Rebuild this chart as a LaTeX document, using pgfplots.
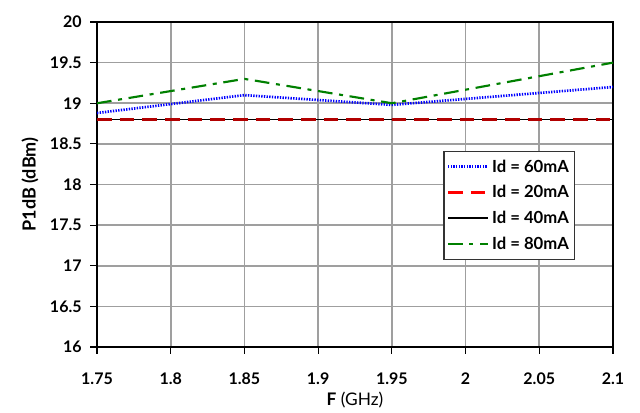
\documentclass[border=0pt]{standalone}
\usepackage{pgfplots}
\pgfplotsset{compat=1.18}
\usepackage{fontspec}
\setmainfont{Lato}
\begin{document}
\begin{tikzpicture}
  \path[use as bounding box, fill=white] (0pt,0pt) rectangle (480pt,309pt);
  \begin{axis}[
    at={(72.75pt,48.75pt)}, anchor=south west,
    scale only axis,
    width=387pt, height=243.75pt,
    xmin=1.75, xmax=2.1, ymin=16, ymax=20,
    xtick={1.75,1.8,1.85,1.9,1.95,2,2.05,2.1},
    ytick={16,16.5,17,17.5,18,18.5,19,19.5,20},
    xticklabels={1.75,1.8,1.85,1.9,1.95,2,2.05,2.1},
    yticklabels={16,16.5,17,17.5,18,18.5,19,19.5,20},
    grid=major,
    major grid style={gray!75, line width=1.3pt},
    axis line style={line width=1.8pt, black},
    tick align=outside,
    tick style={black, line width=0.9pt},
    major tick length=5pt,
    xtick pos=bottom, ytick pos=left,
    ticklabel style={font=\fontsize{12}{14}\selectfont\bfseries},
    xticklabel style={yshift=-11pt},
    yticklabel style={xshift=-3pt},
    xlabel={\textbf{F} (GHz)},
    ylabel={\textbf{P1dB (dBm)}},
    xlabel style={font=\fontsize{13}{15}\selectfont,
      at={(axis description cs:0.5,0)}, anchor=center, yshift=-39.5pt},
    ylabel style={font=\fontsize{13.5}{15}\selectfont\bfseries,
      at={(axis description cs:-0.13,0.5)}, anchor=center},
    legend cell align=left,
    legend style={at={(0.926,0.603)}, anchor=north east,
      draw=black!80, line width=0.9pt, fill=white,
      font=\fontsize{12.5}{14}\selectfont\bfseries,
      row sep=4.5pt, inner xsep=2pt, inner ysep=4pt},
    legend image code/.code={\draw[#1] (0pt,0pt) -- (30pt,0pt);},
  ]
    \addlegendimage{blue, line width=2pt, dash pattern=on 1pt off 1pt}
    \addlegendentry{Id = 60mA}
    \addlegendimage{red, line width=1.6pt, dash pattern=on 11pt off 6pt}
    \addlegendentry{Id = 20mA}
    \addlegendimage{black, line width=1.3pt}
    \addlegendentry{Id = 40mA}
    \addlegendimage{green!50!black, line width=1.6pt, dash pattern=on 11pt off 5pt on 3pt off 5pt}
    \addlegendentry{Id = 80mA}

    % 40 mA
    \addplot[forget plot, black, line width=1.3pt] coordinates {
      (1.75,18.8) (1.85,18.8) (1.95,18.8) (2.1,18.8)};
    % 20 mA
    \addplot[forget plot, red!70!black, line width=1.6pt, dash pattern=on 11pt off 6pt] coordinates {
      (1.75,18.8) (1.85,18.8) (1.95,18.8) (2.1,18.8)};
    % 60 mA
    \addplot[forget plot, blue, line width=2pt, dash pattern=on 1pt off 1pt] coordinates {
      (1.75,18.88) (1.85,19.1) (1.95,18.98) (2.1,19.2)};
    % 80 mA
    \addplot[forget plot, green!50!black, line width=1.6pt, dash pattern=on 11pt off 5pt on 3pt off 5pt] coordinates {
      (1.75,19.0) (1.85,19.3) (1.95,19.0) (2.1,19.5)};
  \end{axis}
\end{tikzpicture}
\end{document}
